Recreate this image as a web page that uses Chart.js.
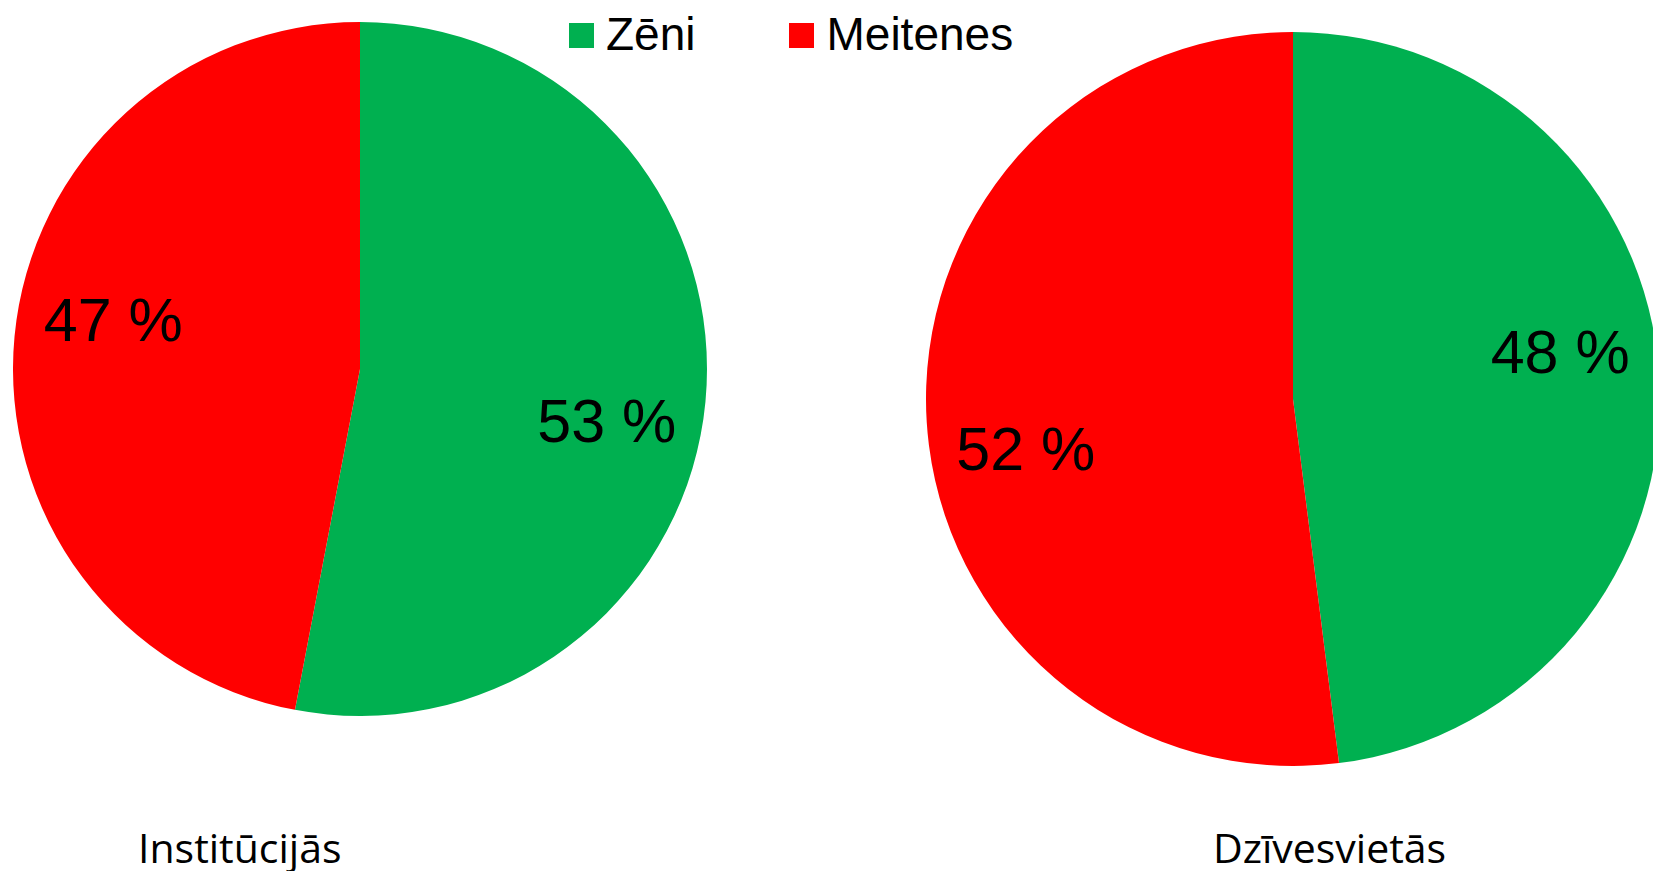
<!DOCTYPE html>
<html>
<head>
<meta charset="utf-8">
<script src="https://cdn.jsdelivr.net/npm/chart.js@4"></script>
<style>
  html, body { margin: 0; padding: 0; background: #fff; overflow: hidden; width: 1653px; height: 871px; }
  .box { position: absolute; }
  #legend { position: absolute; left: 569px; top: 11px; display: flex; align-items: center;
    font-family: "Liberation Sans", Arial, sans-serif; font-size: 46px; line-height: 46px; color: #000; }
  #legend .item { display: flex; align-items: center; }
  #legend .item + .item { margin-left: 94px; }
  #legend .swatch { width: 25px; height: 25px; margin-right: 12px; margin-top: 2px; }
  .caption { position: absolute; top: 827px; font-family: "Open Sans", sans-serif; font-size: 41px; line-height: 41px; color: #000; }
</style>
</head>
<body>
<div id="legend"></div>
<div class="box" style="left:13px;top:22px;width:694px;height:694px"><canvas id="pieInstitutions"></canvas></div>
<div class="box" style="left:926px;top:32px;width:734px;height:734px"><canvas id="pieHomes"></canvas></div>
<div class="caption" id="captionLeft" style="left:138px"></div>
<div class="caption" id="captionRight" style="left:1213px"></div>
<script>
const labels = ["Zēni", "Meitenes"];
const colors = ["#00B050", "#FF0000"];
const institutionsValues = [53, 47];
const homesValues = [48, 52];
const captions = ["Institūcijās", "Dzīvesvietās"];

// percentage labels inside slices (rotate / dist tweak where the label sits)
const sliceLabels = {
  id: "sliceLabels",
  afterDatasetsDraw(chart, args, opts) {
    const ctx = chart.ctx;
    const meta = chart.getDatasetMeta(0);
    const values = chart.data.datasets[0].data;
    const rot = ((opts.rotate || 0) * Math.PI) / 180;
    ctx.save();
    ctx.font = "61px 'Liberation Sans', Arial, sans-serif";
    ctx.fillStyle = "#000";
    ctx.textAlign = "center";
    ctx.textBaseline = "middle";
    meta.data.forEach((arc, i) => {
      const p = arc.getProps(["x", "y", "startAngle", "endAngle", "outerRadius"], true);
      const mid = (p.startAngle + p.endAngle) / 2 + rot;
      const r = p.outerRadius * (opts.dist || 0.73);
      ctx.fillText(values[i] + " %", p.x + Math.cos(mid) * r, p.y + Math.sin(mid) * r + 6);
    });
    ctx.restore();
  },
};

function makePie(id, values, rotate, dist) {
  const ctx = document.getElementById(id);
  return new Chart(ctx, {
    type: "pie",
    data: {
      labels: labels,
      datasets: [
        {
          data: values,
          backgroundColor: colors,
          borderWidth: 0,
          hoverOffset: 0,
          offset: 0,
        },
      ],
    },
    options: {
      responsive: true,
      maintainAspectRatio: false,
      animation: false,
      layout: { padding: 0 },
      plugins: {
        legend: { display: false },
        tooltip: { enabled: false },
        sliceLabels: { rotate: rotate, dist: dist },
      },
    },
    plugins: [sliceLabels],
  });
}

makePie("pieInstitutions", institutionsValues, 6.2, 0.726);
makePie("pieHomes", homesValues, -6.7, 0.74);

const legend = document.getElementById("legend");
labels.forEach((label, i) => {
  const item = document.createElement("div");
  item.className = "item";
  const swatch = document.createElement("span");
  swatch.className = "swatch";
  swatch.style.background = colors[i];
  const text = document.createElement("span");
  text.textContent = label;
  item.appendChild(swatch);
  item.appendChild(text);
  legend.appendChild(item);
});

document.getElementById("captionLeft").textContent = captions[0];
document.getElementById("captionRight").textContent = captions[1];
</script>
</body>
</html>
